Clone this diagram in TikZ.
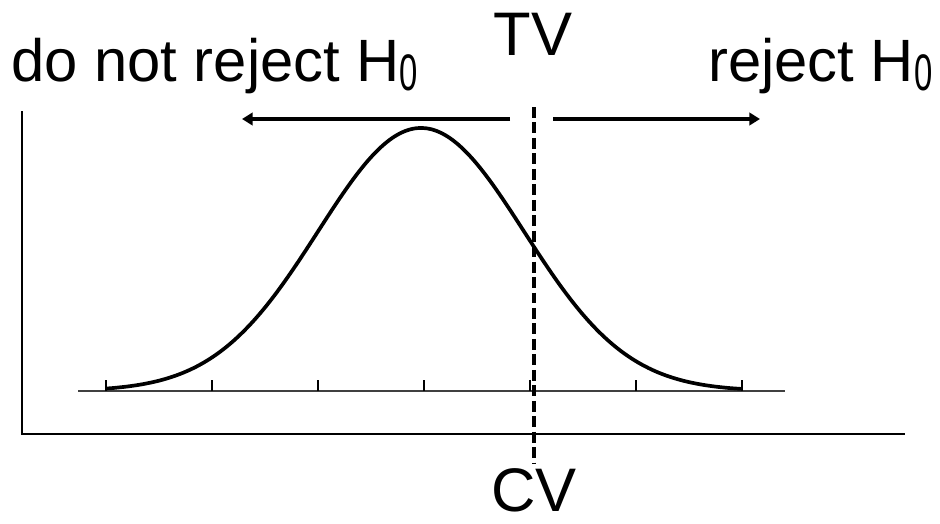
\documentclass[tikz,border=0pt]{standalone}
\usepackage{fontspec}
\setmainfont{Liberation Sans}
\usetikzlibrary{arrows.meta,positioning}
\newcommand{\nullsub}{\raisebox{-0.16em}{\scalebox{0.55}[0.86]{0}}}

\begin{document}
\begin{tikzpicture}[x=0.02cm,y=-0.02cm,
    lbl/.style={inner sep=0pt,font=\fontsize{34}{40}\selectfont},
    cutlbl/.style={inner sep=0pt,font=\fontsize{35}{40}\selectfont},
    region/.style={line width=2.8pt,-{Triangle[length=6pt,width=7pt]}}]
  \useasboundingbox (0,0) rectangle (940,524);
  % axes and scale
  \draw[line width=0.9pt] (22,111)--(22,434)--(905,434);
  \draw[line width=0.8pt,black!75] (78,391)--(785,391);
  \foreach \t in {0,...,6}{\draw[line width=0.9pt] (106+106*\t,391)--++(0,-11);}
  % density
  \draw[line width=2.1pt,domain=106:742,samples=120,smooth] plot (\x,{391-263*exp(-0.5*((\x-421)/103)^2)});
  % critical value
  \node[cutlbl,anchor=base] (tv) at (533,55) {TV};
  \node[cutlbl,anchor=base] (cv) at (534,511) {CV};
  \coordinate (cvtop) at (534,107);
  \coordinate (cvbot) at (534,463);
  \draw[line width=2.8pt,dash pattern=on 6.2pt off 2.6pt] (cvtop)--(cvbot);
  % decision regions
  \node[lbl,anchor=base west] (keep) at (11,81) {do not reject H\nullsub};
  \node[lbl,anchor=base west] (drop) at (708,81) {reject H\nullsub};
  \coordinate (keepstart) at (510,119);
  \coordinate (keepend) at (242,119);
  \coordinate (dropstart) at (553,119);
  \coordinate (dropend) at (760,119);
  \draw[region] (keepstart)--(keepend);
  \draw[region] (dropstart)--(dropend);
\end{tikzpicture}
\end{document}
